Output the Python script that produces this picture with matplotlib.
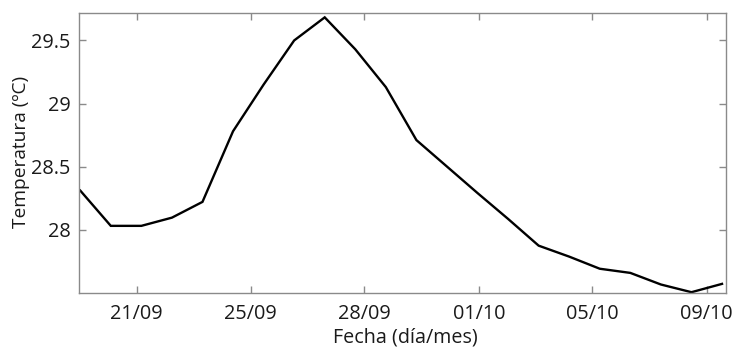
import matplotlib
matplotlib.use("Agg")
import matplotlib.pyplot as plt
import numpy as np

# Data (equally spaced samples)
temperature = [28.31, 28.03, 28.03, 28.095, 28.22, 28.78, 29.15, 29.50,
               29.683, 29.43, 29.13, 28.71, 28.50, 28.29, 28.085, 27.873,
               27.786, 27.69, 27.657, 27.565, 27.504, 27.57]
xtick_labels = ["21/09", "25/09", "28/09", "01/10", "05/10", "09/10"]
xtick_pos = [1.85, 5.58, 9.29, 13.05, 16.75, 20.5]
ytick_vals = [28, 28.5, 29, 29.5]
ytick_labels = ["28", "28.5", "29", "29.5"]

plt.rcParams['font.family'] = ['Open Sans', 'DejaVu Sans']

W, H = 734, 347
fig = plt.figure(figsize=(W/100, H/100), dpi=100)
L, R, T, B = 78.7, 726.3, 12.7, 292.7
ax = fig.add_axes([L/W, 1 - B/H, (R-L)/W, (B-T)/H])

x = np.arange(len(temperature))
ax.plot(x, temperature, color='black', lw=1.7, solid_joinstyle='miter')

ax.set_xlim(-0.05, 21.14)
ax.set_ylim(27.5, 29.72)
ax.set_xticks(xtick_pos)
ax.set_xticklabels(xtick_labels)
ax.set_yticks(ytick_vals)
ax.set_yticklabels(ytick_labels)

grey = '#8a8a8a'
for s in ax.spines.values():
    s.set_color(grey)
    s.set_linewidth(1.0)
ax.tick_params(direction='in', length=5, width=1.0, color=grey,
               top=True, right=True, labelsize=14.3, labelcolor='#1a1a1a')
ax.tick_params(axis='x', pad=8)
ax.tick_params(axis='y', pad=6)

ax.set_xlabel("Fecha (día/mes)", fontsize=14.2, color='#1a1a1a', va='center')
ax.set_ylabel("Temperatura (ºC)", fontsize=13.8, color='#1a1a1a', va='center')
ax.xaxis.set_label_coords((405 - L)/(R-L), (B-337)/(B-T))
ax.yaxis.set_label_coords((21 - L)/(R-L), (B-151.5)/(B-T))

fig.savefig("out.png", dpi=100)
